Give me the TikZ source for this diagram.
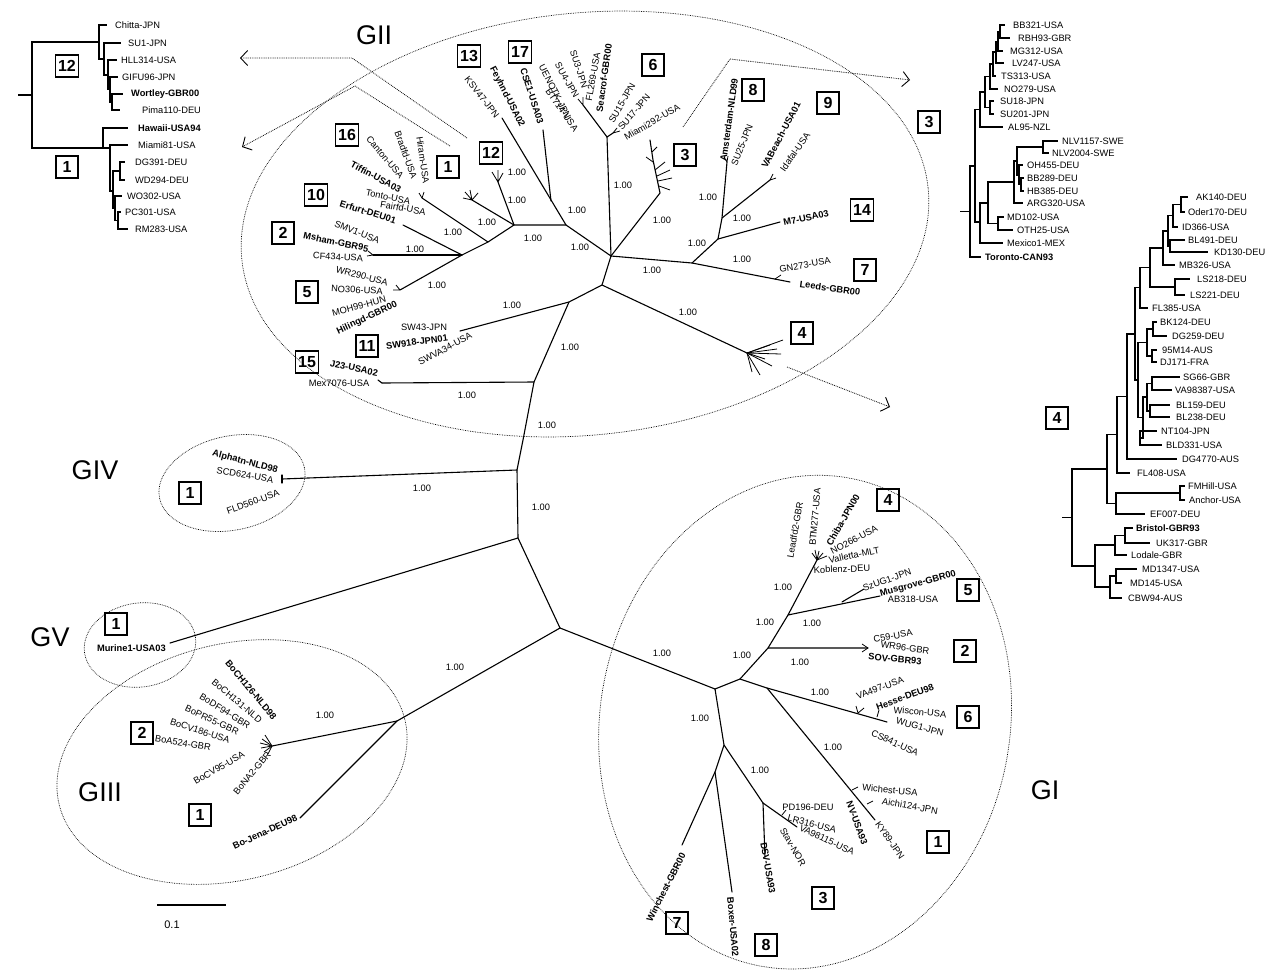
\documentclass[tikz,border=0pt]{standalone}
\usepackage{fontspec}
\setmainfont{Liberation Sans}
\usetikzlibrary{arrows.meta}
\tikzset{
 tr/.style={line width=1.1pt, line cap=round, line join=round},
 ins/.style={line width=1.2pt},
 lab/.style={font=\fontsize{9.3}{9.5}\selectfont, inner sep=0pt},
 blab/.style={font=\fontsize{9.3}{9.5}\selectfont\bfseries, inner sep=0pt},
 numbox/.style={draw, line width=1.3pt, font=\fontsize{16}{16}\selectfont\bfseries, minimum width=22pt, minimum height=22pt, inner sep=2.5pt},
 grp/.style={font=\fontsize{27}{27}\selectfont, inner sep=0pt},
 dotl/.style={densely dotted, line width=0.7pt},
 arr/.style={densely dotted, line width=0.8pt, -{Straight Barb[length=7pt,width=15pt,line width=0.9pt]}}
}
\newcommand\leafA[5]{\coordinate (#1) at (#2,#3); \node[lab,anchor=west] (#1t) at (#4,#3) {#5};}
\newcommand\leafB[5]{\coordinate (#1) at (#2,#3); \node[blab,anchor=west] (#1t) at (#4,#3) {#5};}
\newcommand\brc[2]{\draw[ins] (#1) |- (#2);}
\newcommand\supv[3]{\node[lab] (#1) at (#2,#3) {1.00};}
\newcommand\tl[5]{\node[lab,rotate=#4] (#1) at (#2,#3) {#5};}
\newcommand\tb[5]{\node[blab,rotate=#4] (#1) at (#2,#3) {#5};}
\begin{document}
\begin{tikzpicture}[x=1pt,y=-1pt]
\useasboundingbox (0,0) rectangle (1271,972);
% ================= top-left inset ==================
\coordinate (tls) at (18,95); \coordinate (tlr) at (32,95);
\draw[ins] (tls) -- (tlr);
\coordinate (c12) at (99,42); \coordinate (nA) at (104,59); \coordinate (nB) at (108,75);
\coordinate (nC) at (110,89.5); \coordinate (nD) at (112,102);
\leafA{chi}{107}{25}{115}{Chitta-JPN}
\leafA{su1}{121}{43}{128}{SU1-JPN}
\leafA{hll}{117}{60}{121}{HLL314-USA}
\leafA{gif}{118}{77}{122}{GIFU96-JPN}
\leafB{wor}{123}{94}{131}{Wortley-GBR00}
\leafA{pim}{120}{110}{142}{Pima110-DEU}
\brc{tlr}{c12}\brc{c12}{chi}\brc{c12}{nA}\brc{nA}{su1}\brc{nA}{nB}\brc{nB}{hll}\brc{nB}{nC}
\brc{nC}{gif}\brc{nC}{nD}\brc{nD}{wor}\brc{nD}{pim}
\coordinate (c1) at (103,148); \coordinate (nE) at (110,148); \coordinate (nF) at (113,191);
\coordinate (nG) at (120,171); \coordinate (nH) at (115,208); \coordinate (nI) at (118,220.5);
\leafB{haw}{128}{128}{138}{Hawaii-USA94}
\leafA{mia}{128}{145}{138}{Miami81-USA}
\leafA{dg3}{125}{162}{135}{DG391-DEU}
\leafA{wd2}{125}{180}{135}{WD294-DEU}
\leafA{wo3}{122}{196}{127}{WO302-USA}
\leafA{pc3}{121}{212}{125}{PC301-USA}
\leafA{rm2}{128}{229}{135}{RM283-USA}
\brc{tlr}{c1}\brc{c1}{haw}\brc{c1}{nE}\brc{nE}{mia}\brc{nE}{nF}\brc{nF}{nG}\brc{nF}{nH}
\brc{nG}{dg3}\brc{nG}{wd2}\brc{nH}{wo3}\brc{nH}{nI}\brc{nI}{pc3}\brc{nI}{rm2}
\node[numbox] (bx12a) at (67,66) {12};
\node[numbox] (bx1a) at (67,167) {1};
% ================= inset 3 ==================
\leafA{bb3}{1005}{25}{1013}{BB321-USA}
\leafA{rbh}{1010}{38}{1018}{RBH93-GBR}
\leafA{mg3}{1003}{51}{1010}{MG312-USA}
\leafA{lv2}{1004}{63}{1012}{LV247-USA}
\leafA{ts3}{996}{76}{1001}{TS313-USA}
\leafA{no2}{998}{89}{1004}{NO279-USA}
\leafA{s18}{994}{101}{1000}{SU18-JPN}
\leafA{s20}{994}{114}{1000}{SU201-JPN}
\leafA{al9}{1003}{127}{1008}{AL95-NZL}
\leafA{nl1}{1058}{141}{1062}{NLV1157-SWE}
\leafA{nl2}{1049}{153}{1052}{NLV2004-SWE}
\leafA{oh4}{1023}{165}{1027}{OH455-DEU}
\leafA{bb2}{1024}{178}{1027}{BB289-DEU}
\leafA{hb3}{1024}{191}{1027}{HB385-DEU}
\leafA{arg}{1023}{203}{1027}{ARG320-USA}
\leafA{md1}{1004}{217}{1007}{MD102-USA}
\leafA{oth}{1013}{230}{1017}{OTH25-USA}
\leafA{mxc}{1003}{243}{1007}{Mexico1-MEX}
\leafB{tor}{981}{257}{985}{Toronto-CAN93}
\coordinate (q1) at (1000,31.5); \coordinate (q2) at (998,41.25); \coordinate (q3) at (996,52);
\coordinate (q4) at (993,64); \coordinate (q5) at (990,76.5); \coordinate (q6) at (990,107.5);
\coordinate (q7) at (985,92); \coordinate (q8) at (980,109.5);
\coordinate (r1) at (1043,147); \coordinate (r2a) at (1021,184.5); \coordinate (r2) at (1019,175);
\coordinate (r3) at (1017,161); \coordinate (r4) at (1014,182); \coordinate (r5) at (998,223.5);
\coordinate (r6) at (988,203); \coordinate (r7) at (980,222); \coordinate (n3a) at (975,166);
\coordinate (rt3) at (970,211.5); \coordinate (rt3s) at (960,211.5);
\draw[ins] (rt3s) -- (rt3);
\brc{q1}{bb3}\brc{q1}{rbh}\brc{q2}{q1}\brc{q2}{mg3}\brc{q3}{q2}\brc{q3}{lv2}\brc{q4}{q3}\brc{q4}{ts3}
\brc{q5}{q4}\brc{q5}{no2}\brc{q6}{s18}\brc{q6}{s20}\brc{q7}{q5}\brc{q7}{q6}\brc{q8}{q7}\brc{q8}{al9}
\brc{r1}{nl1}\brc{r1}{nl2}\brc{r2a}{bb2}\brc{r2a}{hb3}\brc{r2}{oh4}\brc{r2}{r2a}\brc{r3}{r1}\brc{r3}{r2}
\brc{r4}{r3}\brc{r4}{arg}\brc{r5}{md1}\brc{r5}{oth}\brc{r6}{r4}\brc{r6}{r5}\brc{r7}{r6}\brc{r7}{mxc}
\brc{n3a}{q8}\brc{n3a}{r7}\brc{rt3}{n3a}\brc{rt3}{tor}
\node[numbox] (bx3r) at (929,122) {3};
% ================= inset 4 ==================
\leafA{ak1}{1188}{197}{1196}{AK140-DEU}
\leafA{od1}{1185}{212}{1188}{Oder170-DEU}
\leafA{id3}{1178}{227}{1182}{ID366-USA}
\leafA{bl4}{1185}{240}{1188}{BL491-DEU}
\leafA{kd1}{1208}{252}{1214}{KD130-DEU}
\leafA{mb3}{1175}{265}{1179}{MB326-USA}
\leafA{ls8}{1190}{279}{1197}{LS218-DEU}
\leafA{ls1}{1185}{295}{1190}{LS221-DEU}
\leafA{fl3}{1148}{308}{1152}{FL385-USA}
\leafA{bk1}{1157}{322}{1160}{BK124-DEU}
\leafA{dg2}{1167}{336}{1172}{DG259-DEU}
\leafA{m95}{1157}{350}{1162}{95M14-AUS}
\leafA{dj1}{1157}{362}{1160}{DJ171-FRA}
\leafA{sg6}{1180}{377}{1183}{SG66-GBR}
\leafA{va3}{1172}{390}{1175}{VA98387-USA}
\leafA{b15}{1170}{405}{1176}{BL159-DEU}
\leafA{b23}{1170}{417}{1176}{BL238-DEU}
\leafA{nt1}{1157}{431}{1161}{NT104-JPN}
\leafA{bld}{1162}{445}{1166}{BLD331-USA}
\leafA{dg4}{1177}{459}{1182}{DG4770-AUS}
\leafA{fl4}{1130}{473}{1137}{FL408-USA}
\leafA{fmh}{1185}{486}{1188}{FMHill-USA}
\leafA{anc}{1185}{500}{1189}{Anchor-USA}
\leafA{ef0}{1145}{514}{1150}{EF007-DEU}
\leafB{bri}{1133}{528}{1136}{Bristol-GBR93}
\leafA{uk3}{1150}{543}{1156}{UK317-GBR}
\leafA{lod}{1127}{555}{1131}{Lodale-GBR}
\leafA{m13}{1137}{569}{1142}{MD1347-USA}
\leafA{m14}{1122}{583}{1130}{MD145-USA}
\leafA{cbw}{1122}{598}{1128}{CBW94-AUS}
\coordinate (a1) at (1181,204.5); \coordinate (a2) at (1173,215.75); \coordinate (a3) at (1170,246);
\coordinate (a4) at (1168,231); \coordinate (a5) at (1163,248); \coordinate (a6) at (1175,287);
\coordinate (a7) at (1150,267.5); \coordinate (a8) at (1140,287.75);
\coordinate (d1) at (1153,329); \coordinate (d2) at (1152,356); \coordinate (d3) at (1147,342.5);
\coordinate (d4) at (1152,383.5); \coordinate (d5) at (1150,411); \coordinate (d6) at (1147,397);
\coordinate (d7) at (1140,438); \coordinate (d8) at (1143,417.5); \coordinate (d9) at (1138,380);
\coordinate (d10) at (1135,334); \coordinate (d11) at (1127,396.5); \coordinate (d12) at (1117,434.75);
\coordinate (u2a) at (1180,493); \coordinate (u2) at (1116,503.5); \coordinate (utop) at (1107,469);
\coordinate (b1) at (1125,535.5); \coordinate (b2) at (1115,545); \coordinate (b3) at (1116,576);
\coordinate (b4) at (1110,587); \coordinate (b5) at (1095,566);
\coordinate (rt4) at (1072,517.5); \coordinate (rt4s) at (1062,517.5);
\draw[ins] (rt4s) -- (rt4);
\brc{a1}{ak1}\brc{a1}{od1}\brc{a2}{a1}\brc{a2}{id3}\brc{a3}{bl4}\brc{a3}{kd1}\brc{a4}{a2}\brc{a4}{a3}
\brc{a5}{a4}\brc{a5}{mb3}\brc{a6}{ls8}\brc{a6}{ls1}\brc{a7}{a5}\brc{a7}{a6}\brc{a8}{a7}\brc{a8}{fl3}
\brc{d1}{bk1}\brc{d1}{dg2}\brc{d2}{m95}\brc{d2}{dj1}\brc{d3}{d1}\brc{d3}{d2}\brc{d4}{sg6}\brc{d4}{va3}
\brc{d5}{b15}\brc{d5}{b23}\brc{d6}{d4}\brc{d6}{d5}\brc{d7}{nt1}\brc{d7}{bld}\brc{d8}{d6}\brc{d8}{d7}
\brc{d9}{d3}\brc{d9}{d8}\brc{d10}{a8}\brc{d10}{d9}\brc{d11}{d10}\brc{d11}{dg4}\brc{d12}{d11}\brc{d12}{fl4}
\brc{u2a}{fmh}\brc{u2a}{anc}\brc{u2}{u2a}\brc{u2}{ef0}\brc{utop}{d12}\brc{utop}{u2}
\brc{b1}{bri}\brc{b1}{uk3}\brc{b2}{b1}\brc{b2}{lod}\brc{b3}{m13}\brc{b3}{m14}\brc{b4}{b3}\brc{b4}{cbw}
\brc{b5}{b2}\brc{b5}{b4}\brc{rt4}{utop}\brc{rt4}{b5}
\node[numbox] (bx4r) at (1057,418) {4};
% ================= main tree: coordinates ==================
\coordinate (hub) at (611,256); \coordinate (T) at (566,225); \coordinate (H2) at (514,225);
\coordinate (H3) at (488,242); \coordinate (H4) at (462,255); \coordinate (B1) at (602,285);
\coordinate (B2) at (569,302); \coordinate (B3) at (534,382); \coordinate (B4) at (523,440);
\coordinate (GIVn) at (517,470); \coordinate (GVn) at (518,538); \coordinate (C) at (560,628);
\coordinate (g1) at (715,689); \coordinate (g2) at (740,679); \coordinate (g3) at (768,648);
\coordinate (g4) at (788,615); \coordinate (g6) at (767,688); \coordinate (g5) at (724,745);
\coordinate (g7) at (715,772); \coordinate (GIIIn) at (397,721);
\coordinate (fey) at (502,118); \coordinate (cseb) at (551,201); \coordinate (cse) at (543,130);
\coordinate (S1) at (607,137); \coordinate (S2) at (583,105); \coordinate (S3) at (613,133);
\coordinate (c3b) at (660,193); \coordinate (c3m) at (653,160); \coordinate (c3t) at (650,140);
\coordinate (R1) at (692,263); \coordinate (R2) at (718,239); \coordinate (R3) at (722,218);
\coordinate (lee) at (790,282); \coordinate (gnb) at (775,279); \coordinate (m7t) at (780,222);
\coordinate (amt) at (727,162); \coordinate (vat) at (770,180);
\coordinate (c12b) at (498,182); \coordinate (c1b) at (472,200); \coordinate (tont) at (422,198);
\coordinate (erft) at (403,225); \coordinate (cft) at (373,255); \coordinate (wrt) at (400,290);
\coordinate (c4b) at (747,353); \coordinate (swt) at (460,331); \coordinate (mext) at (382,383);
\coordinate (scdt) at (282,479); \coordinate (murt) at (170,643);
\coordinate (gi6t) at (887,722); \coordinate (gi1t) at (875,820); \coordinate (gi2t) at (868,648);
\coordinate (gi5t) at (880,596); \coordinate (gi5b) at (842,602); \coordinate (gi5s) at (864,589);
\coordinate (gi4b) at (817,560); \coordinate (gi3n) at (763,803); \coordinate (gi3t) at (797,827);
\coordinate (dsvt) at (765,857); \coordinate (wint) at (682,845); \coordinate (boxt) at (732,892);
\coordinate (g3fan) at (272,746); \coordinate (jent) at (300,818);
% backbone and branches
\draw[tr] (murt) -- (GVn) -- (GIVn) -- (B4) -- (B3) -- (B2) -- (B1) -- (hub);
\draw[tr] (GVn) -- (C) -- (g1);
\draw[tr] (C) -- (GIIIn);
\draw[tr] (GIVn) -- (scdt); \draw[tr] (282,475) -- (282,483);
\draw[tr] (B3) -- (mext); \draw[tr] (mext) -- ++(-4,-3);
\draw[tr] (B2) -- (swt);
\draw[tr] (B1) -- (c4b);
\foreach \dx/\dy in {36/-13,34/1,25/13,13/22,5/19,23/-8,30/-4,18/6} \draw[line width=0.8pt] (c4b) -- ++(\dx,\dy);
\draw[tr] (hub) -- (T) -- (fey); \draw[tr] (cseb) -- (cse);
\draw[tr] (T) -- (H2) -- (H3) -- (H4) -- (wrt);
\draw[tr] (H2) -- (c12b); \draw[line width=0.8pt] (c12b) -- ++(-6,-10) (c12b) -- ++(0,-12) (c12b) -- ++(5,-9);
\draw[tr] (H2) -- (c1b); \draw[line width=0.8pt] (c1b) -- ++(-7,-8) (c1b) -- ++(-2,-10) (c1b) -- ++(6,-7) (c1b) -- ++(-9,-2);
\draw[tr] (H3) -- (tont); \draw[line width=0.8pt] (tont) -- ++(-3,-5) (tont) -- ++(2,-6);
\draw[tr] (H4) -- (erft);
\draw[tr] (H4) -- (cft); \draw[line width=0.8pt] (cft) -- ++(-5,-4) (cft) -- ++(-6,1);
\draw[line width=0.8pt] (wrt) -- ++(-4,-5) (wrt) -- ++(-7,0);
\draw[tr] (hub) -- (S1) -- (S2); \draw[line width=0.8pt] (S2) -- ++(-5,-6) (S2) -- ++(0,-8);
\draw[tr] (S1) -- (S3); \draw[line width=0.8pt] (S3) -- ++(4,-5) (S3) -- ++(7,-2);
\draw[tr] (hub) -- (c3b) -- (c3m) -- (c3t);
\draw[line width=0.8pt] (655,170) -- (665,162) (657,176) -- (670,170) (658,181) -- (672,178) (659,186) -- (670,190) (653,162) -- (646,157) (652,152) -- (657,147);
\draw[tr] (hub) -- (R1) -- (lee); \draw[line width=0.8pt] (gnb) -- ++(6,-4);
\draw[tr] (R1) -- (R2) -- (m7t);
\draw[tr] (R2) -- (R3) -- (amt); \draw[line width=0.8pt] (amt) -- ++(-3,-5) (amt) -- ++(1,-6);
\draw[tr] (R3) -- (vat); \draw[line width=0.8pt] (vat) -- ++(3,-6) (vat) -- ++(6,-2);
% GI
\draw[tr] (g1) -- (g2) -- (g6) -- (gi6t);
\draw[line width=0.8pt] (858,713) -- ++(-2,-7) (858,713) -- ++(6,-5) (877,717) -- ++(2,-7);
\draw[tr] (g6) -- (gi1t); \draw[line width=0.8pt] (852,790) -- ++(6,-3) (867,804) -- ++(6,-3);
\draw[tr] (g2) -- (g3) -- (gi2t); \draw[line width=0.8pt] (gi2t) -- ++(-6,-4) (gi2t) -- ++(-6,4);
\draw[tr] (g3) -- (g4) -- (gi5t); \draw[tr] (gi5b) -- (gi5s);
\draw[tr] (g4) -- (gi4b);
\foreach \dx/\dy in {-5/-7,-2/-10,2/-9,6/-7,10/-4} \draw[line width=0.8pt] (gi4b) -- ++(\dx,\dy);
\draw[tr] (g1) -- (g5) -- (gi3n) -- (gi3t); \draw[tr] (gi3n) -- (dsvt);
\draw[line width=0.8pt] (782,815) -- ++(4,-5);
\draw[tr] (g5) -- (g7) -- (wint); \draw[tr] (g7) -- (boxt);
% GIII
\draw[tr] (GIIIn) -- (g3fan); \draw[tr] (GIIIn) -- (jent);
\foreach \dx/\dy in {-7/-11,-10/-7,-12/-3,-11/2,-8/6,-4/8} \draw[line width=0.8pt] (g3fan) -- ++(\dx,\dy);
% ================= ellipses ==================
\coordinate (e2) at (585,224); \coordinate (e1) at (805,722); \coordinate (e4) at (232,483);
\coordinate (e5) at (140,645); \coordinate (e3) at (232,762);
\draw[dotl, rotate around={6:(e2)}] (e2) ellipse (345 and 211);
\draw[dotl, rotate around={-10:(e1)}] (e1) ellipse (205 and 248);
\draw[dotl, rotate around={12:(e4)}] (e4) ellipse (74 and 47);
\draw[dotl, rotate around={8:(e5)}] (e5) ellipse (56 and 42);
\draw[dotl, rotate around={14:(e3)}] (e3) ellipse (178 and 118);
% ================= arrows ==================
\coordinate (a1s) at (467,138); \coordinate (a1m) at (352,58); \coordinate (a1e) at (240,58);
\coordinate (a2s) at (450,146); \coordinate (a2m) at (355,86); \coordinate (a2e) at (242,147);
\coordinate (a3s) at (683,127); \coordinate (a3m) at (730,59); \coordinate (a3e) at (910,80);
\coordinate (a4s) at (787,367); \coordinate (a4e) at (890,407);
\draw[arr] (a1s) -- (a1m) -- (a1e);
\draw[arr] (a2s) -- (a2m) -- (a2e);
\draw[arr] (a3s) -- (a3m) -- (a3e);
\draw[arr] (a4s) -- (a4e);
% ================= GII labels ==================
\tl{Lksv}{482}{97}{-52}{KSV47-JPN}
\tb{Lfey}{507}{97}{-63}{Feyhnd-USA02}
\tb{Lcse}{532}{96}{-72}{CSE1-USA03}
\tl{Luen}{555}{92}{-63}{UENOTK-JPN}
\tl{Lbt7}{562}{110}{-55}{BT714-USA}
\tl{Lsu4}{567}{80}{-60}{SU4-JPN}
\tl{Lsu3}{579}{69}{-72}{SU3-JPN}
\tl{Lfl2}{593}{77}{80}{FL269-USA}
\tb{Lsea}{604}{78}{82}{Seacrof-GBR00}
\tl{Ls15}{622}{103}{60}{SU15-JPN}
\tl{Ls17}{634}{112}{50}{SU17-JPN}
\tl{Lm29}{652}{122}{30}{Miami292-USA}
\tb{Lams}{729}{120}{82}{Amsterdam-NLD99}
\tl{Ls25}{742}{145}{68}{SU25-JPN}
\tb{Lvab}{781}{135}{62}{VABeach-USA01}
\tl{Lida}{795}{152}{55}{Idafal-USA}
\tb{Lm7}{806}{218}{12}{M7-USA03}
\tl{Lgn2}{805}{265}{10}{GN273-USA}
\tb{Llee}{830}{288}{-8}{Leeds-GBR00}
\tl{Lhir}{423}{160}{-82}{Hiram-USA}
\tl{Lbrd}{406}{155}{-70}{Bradfd-USA}
\tl{Lcan}{385}{157}{-50}{Canton-USA}
\tb{Ltif}{376}{177}{-28}{Tiffin-USA03}
\tl{Lton}{388}{197}{-12}{Tonto-USA}
\tl{Lfai}{403}{208}{-10}{Fairfd-USA}
\tb{Lerf}{368}{212}{-18}{Erfurt-DEU01}
\tl{Lsmv}{357}{232}{-22}{SMV1-USA}
\tb{Lmsh}{336}{242}{-12}{Msham-GBR95}
\tl{Lcf4}{338}{257}{-3}{CF434-USA}
\tl{Lwr2}{362}{276}{-15}{WR290-USA}
\tl{Lno3}{357}{290}{-3}{NO306-USA}
\tl{Lmoh}{359}{306}{15}{MOH99-HUN}
\tb{Lhil}{367}{318}{25}{Hilingd-GBR00}
\tl{Lsw4}{424}{327}{0}{SW43-JPN}
\tb{Lsw9}{417}{342}{8}{SW918-JPN01}
\tl{Lswv}{445}{349}{28}{SWVA34-USA}
\tb{Lj23}{354}{368}{-12}{J23-USA02}
\tl{Lm70}{339}{383}{0}{Mex7076-USA}
% ================= GI labels ==================
\tl{Llea}{795}{530}{80}{Leadfd2-GBR}
\tl{Lbtm}{815}{517}{85}{BTM277-USA}
\tb{Lchb}{843}{520}{60}{Chiba-JPN00}
\tl{Lno6}{854}{540}{28}{NO266-USA}
\tl{Lval}{854}{555}{12}{Valletta-MLT}
\tl{Lkob}{842}{569}{2}{Koblenz-DEU}
\tl{Lszu}{887}{580}{20}{SzUG1-JPN}
\tb{Lmus}{918}{584}{15}{Musgrove-GBR00}
\tl{Lab3}{913}{599}{0}{AB318-USA}
\tl{Lc59}{893}{636}{10}{C59-USA}
\tl{Lwr9}{905}{648}{-8}{WR96-GBR}
\tb{Lsov}{895}{659}{-5}{SOV-GBR93}
\tl{Lva4}{880}{688}{20}{VA497-USA}
\tb{Lhes}{905}{697}{20}{Hesse-DEU98}
\tl{Lwis}{920}{712}{-5}{Wiscon-USA}
\tl{Lwug}{920}{727}{-15}{WUG1-JPN}
\tl{Lcs8}{895}{743}{-25}{CS841-USA}
\tl{Lwic}{890}{790}{-5}{Wichest-USA}
\tl{Laic}{910}{806}{-10}{Aichi124-JPN}
\tb{Lnv}{857}{823}{-70}{NV-USA93}
\tl{Lky8}{890}{840}{-55}{KY89-JPN}
\tl{Lpd1}{808}{807}{0}{PD196-DEU}
\tl{Llr3}{812}{824}{-15}{LR316-USA}
\tl{Lva9}{827}{840}{-25}{VA98115-USA}
\tl{Lsta}{793}{847}{-60}{Stav-NOR}
\tb{Ldsv}{768}{868}{-80}{DSV-USA93}
\tb{Lwin}{666}{887}{63}{Winchest-GBR00}
\tb{Lbox}{733}{927}{-85}{Boxer-USA02}
% ================= GIII, GIV, GV labels ==================
\tb{Lalp}{245}{462}{-15}{Alphatn-NLD98}
\tl{Lscd}{245}{475}{-10}{SCD624-USA}
\tl{Lfld}{253}{502}{20}{FLD560-USA}
\node[blab,anchor=east] (Lmur) at (166,648) {Murine1-USA03};
\tb{Lb126}{251}{690}{-50}{BoCH126-NLD98}
\tl{Lb131}{237}{701}{-40}{BoCH131-NLD}
\tl{Lbdf}{225}{711}{-32}{BoDF94-GBR}
\tl{Lbpr}{212}{720}{-25}{BoPR55-GBR}
\tl{Lbcv}{200}{731}{-18}{BoCV186-USA}
\tl{Lba5}{183}{743}{-10}{BoA524-GBR}
\tl{Lbc9}{219}{768}{30}{BoCV95-USA}
\tl{Lbna}{252}{773}{50}{BoNA2-GBR}
\tb{Ljen}{265}{832}{25}{Bo-Jena-DEU98}
% ================= support values ==================
\supv{s1}{517}{172}\supv{s2}{517}{200}\supv{s3}{487}{222}\supv{s4}{453}{232}\supv{s5}{415}{249}
\supv{s6}{533}{238}\supv{s7}{577}{210}\supv{s8}{580}{247}\supv{s9}{623}{185}\supv{s10}{662}{220}
\supv{s11}{708}{197}\supv{s12}{742}{218}\supv{s13}{697}{243}\supv{s14}{742}{259}\supv{s15}{652}{270}
\supv{s16}{688}{312}\supv{s17}{437}{285}\supv{s18}{512}{305}\supv{s19}{570}{347}\supv{s20}{467}{395}
\supv{s21}{547}{425}\supv{s22}{422}{488}\supv{s23}{541}{507}\supv{s24}{455}{667}\supv{s25}{325}{715}
\supv{s26}{662}{653}\supv{s27}{742}{655}\supv{s28}{765}{622}\supv{s29}{783}{587}\supv{s30}{800}{662}
\supv{s31}{812}{623}\supv{s32}{820}{692}\supv{s33}{700}{718}\supv{s34}{833}{747}\supv{s35}{760}{770}
% ================= boxes ==================
\node[numbox] (bxg16) at (347,135) {16};
\node[numbox] (bxg1) at (448,167) {1};
\node[numbox] (bxg12) at (491,153) {12};
\node[numbox] (bxg13) at (469,56) {13};
\node[numbox] (bxg17) at (520,52) {17};
\node[numbox] (bxg10) at (316,195) {10};
\node[numbox] (bxg2) at (283,233) {2};
\node[numbox] (bxg5) at (307,292) {5};
\node[numbox] (bxg11) at (367,346) {11};
\node[numbox] (bxg15) at (307,362) {15};
\node[numbox] (bxg6) at (653,65) {6};
\node[numbox] (bxg8) at (753,90) {8};
\node[numbox] (bxg3) at (685,155) {3};
\node[numbox] (bxg9) at (828,103) {9};
\node[numbox] (bxg14) at (862,210) {14};
\node[numbox] (bxg7) at (865,270) {7};
\node[numbox] (bxg4) at (802,333) {4};
\node[numbox] (bxi4) at (888,500) {4};
\node[numbox] (bxi5) at (968,590) {5};
\node[numbox] (bxi2) at (965,651) {2};
\node[numbox] (bxi6) at (968,717) {6};
\node[numbox] (bxi1) at (938,842) {1};
\node[numbox] (bxi3) at (823,898) {3};
\node[numbox] (bxi7) at (677,923) {7};
\node[numbox] (bxi8) at (766,945) {8};
\node[numbox] (bxiii2) at (142,733) {2};
\node[numbox] (bxiii1) at (200,815) {1};
\node[numbox] (bxiv1) at (190,493) {1};
\node[numbox] (bxv1) at (116,624) {1};
% ================= group names, scale ==================
\node[grp] (gGII) at (374,35) {GII};
\node[grp] (gGIV) at (95,470) {GIV};
\node[grp] (gGV) at (50,637) {GV};
\node[grp] (gGIII) at (100,792) {GIII};
\node[grp] (gGI) at (1045,790) {GI};
\coordinate (sb1) at (157,905); \coordinate (sb2) at (226,905);
\draw[line width=1.1pt] (sb1) -- (sb2);
\node[font=\fontsize{11}{11}\selectfont] (sbl) at (172,925) {0.1};
\end{tikzpicture}
\end{document}
